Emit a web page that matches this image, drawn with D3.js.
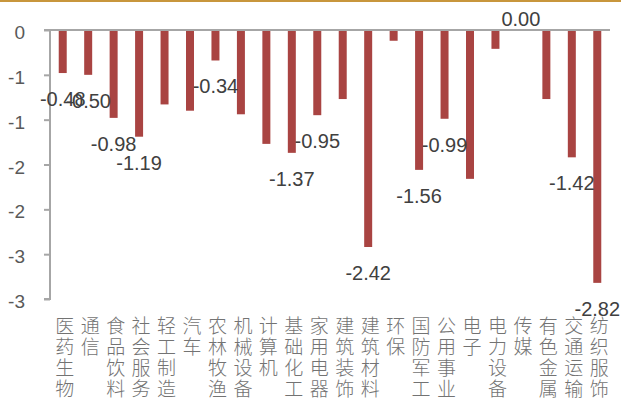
<!DOCTYPE html>
<html>
<head>
<meta charset="utf-8">
<script src="https://cdn.jsdelivr.net/npm/d3@7"></script>
<style>
  body { margin: 0; background: #fff; }
  svg { display: block; }
</style>
</head>
<body>
<div id="chart"></div>
<script>
// Categories, values and the data labels that are shown (null = no label).
var categories = ['医药生物', '通信', '食品饮料', '社会服务', '轻工制造', '汽车', '农林牧渔', '机械设备',
    '计算机', '基础化工', '家用电器', '建筑装饰', '建筑材料', '环保', '国防军工', '公用事业', '电子',
    '电力设备', '传媒', '有色金属', '交通运输', '纺织服饰'];
var values = [-0.48, -0.50, -0.98, -1.19, -0.83, -0.90, -0.34, -0.94, -1.27, -1.37, -0.95, -0.77,
    -2.42, -0.12, -1.56, -0.99, -1.66, -0.21, 0.00, -0.77, -1.42, -2.82];
var shownLabels = ['-0.48', '-0.50', '-0.98', '-1.19', null, null, '-0.34', null, null, '-1.37', '-0.95', null,
    '-2.42', null, '-1.56', '-0.99', null, null, '0.00', null, '-1.42', '-2.82'];
var yTicks = [0, -0.5, -1, -1.5, -2, -2.5, -3];

var width = 621,
    height = 405;

var svg = d3.select('#chart')
    .append('svg')
        .attr('width', width)
        .attr('height', height);

// Gold rule along the top edge.
svg.append('rect')
    .attr('x', 0)
    .attr('y', 0)
    .attr('width', width)
    .attr('height', 2)
    .attr('fill', '#c8963c');

var x = d3.scaleBand()
    .domain(categories)
    .range([50, 610])
    .paddingInner(0.686)
    .paddingOuter(0.343);

var y = d3.scaleLinear()
    .domain([-3, 0])
    .range([299, 30]);

// Y axis: the ticks are every 0.5, but labels are rounded to integers.
var yAxisCall = d3.axisLeft(y)
    .tickValues(yTicks)
    .tickSize(6)
    .tickPadding(19)
    .tickFormat(function(d){ return d3.format('.0f')(d).replace('−', '-'); });

var yAxis = svg.append('g')
    .attr('class', 'y-axis')
    .attr('transform', 'translate(50, 0)')
    .call(yAxisCall);

yAxis.select('.domain')
    .attr('d', 'M-6,' + y(-3) + 'H0V' + y(0))
    .attr('stroke', '#a6a6a6')
    .attr('stroke-width', 2);
yAxis.selectAll('.tick line')
    .attr('stroke', '#a6a6a6')
    .attr('stroke-width', 2);
yAxis.selectAll('.tick text')
    .attr('fill', '#595959')
    .attr('dy', '0.45em')
    .style('font', '19px "Liberation Sans", Arial, sans-serif');

// Bars.
svg.selectAll('rect.bar')
    .data(values)
    .enter().append('rect')
        .attr('class', 'bar')
        .attr('x', function(d, i){ return x(categories[i]); })
        .attr('y', function(d){ return y(Math.max(0, d)); })
        .attr('width', x.bandwidth())
        .attr('height', function(d){ return Math.abs(y(d) - y(0)); })
        .attr('fill', '#a94442');

// Zero line drawn over the bars' tops.
svg.append('line')
    .attr('x1', 44)
    .attr('x2', 610)
    .attr('y1', y(0))
    .attr('y2', y(0))
    .attr('stroke', '#a6a6a6')
    .attr('stroke-width', 2);

// Data labels below the bar end (above for zero).
var labelData = values.map(function(v, i){
    return {cat: categories[i], value: v, label: shownLabels[i]};
}).filter(function(d){ return d.label !== null; });

svg.selectAll('text.val')
    .data(labelData)
    .enter().append('text')
        .attr('class', 'val')
        .attr('x', function(d){ return x(d.cat) + x.bandwidth() / 2; })
        .attr('y', function(d){ return d.value < 0 ? y(d.value) + 33 : y(0) - 4; })
        .attr('text-anchor', 'middle')
        .attr('fill', '#404040')
        .style('font', '20px "Liberation Sans", Arial, sans-serif')
        .text(function(d){ return d.label; });

// Category labels, stacked vertically one character per line.
var catText = svg.selectAll('text.cat')
    .data(categories)
    .enter().append('text')
        .attr('class', 'cat')
        .attr('fill', '#737373')
        .attr('text-anchor', 'middle')
        .style('font', '300 19px "Noto Sans CJK SC", sans-serif');

catText.each(function(c){
    var cx = x(c) + x.bandwidth() / 2 + 2;
    var t = d3.select(this);
    c.split('').forEach(function(ch, j){
        t.append('tspan')
            .attr('x', cx)
            .attr('y', 333 + j * 21)
            .text(ch);
    });
});
</script>
</body>
</html>
